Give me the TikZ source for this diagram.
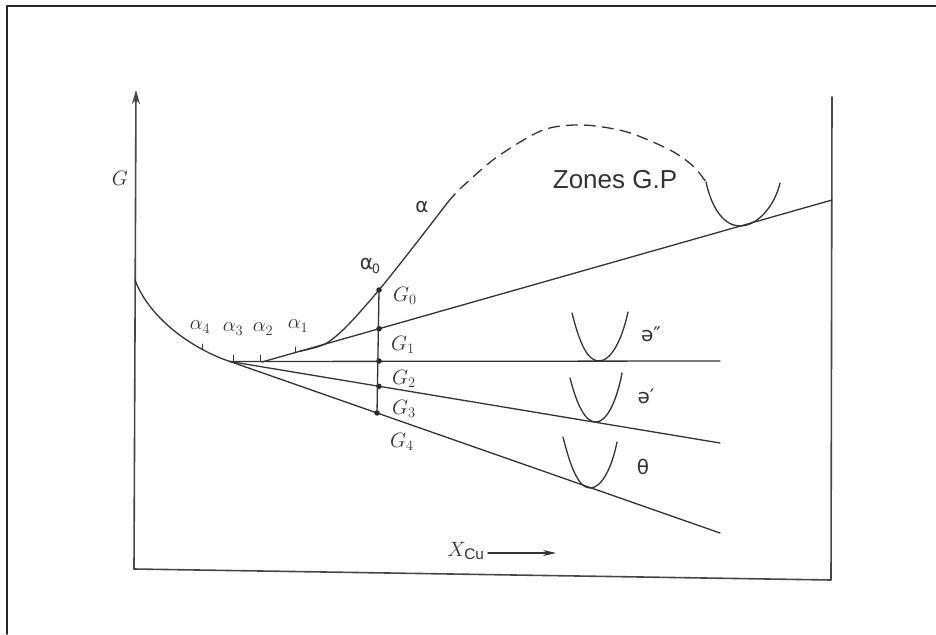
\documentclass[tikz,border=0pt]{standalone}
\usepackage{fontspec}
\setmainfont{Liberation Sans}
\newfontfamily\dejavu{DejaVu Sans}
\usetikzlibrary{arrows.meta,calc}
\begin{document}
\begin{tikzpicture}[x=1pt,y=-1pt,line cap=round,line join=round,
  ln/.style={line width=1.3pt,draw=black!80},
  ax/.style={line width=1.6pt,draw=black!72},
  dotmark/.style={circle,fill=black!85,inner sep=0pt,minimum size=5.5pt},
  lbl/.style={inner sep=0pt,text=black!80},
  glbl/.style={lbl,font=\fontsize{22}{24}\selectfont},
  albl/.style={lbl,font=\fontsize{20}{22}\selectfont},
  slbl/.style={lbl,font=\dejavu\fontsize{20}{24}\selectfont},
  tick/.style={line width=0.9pt,draw=black!80}]
\useasboundingbox (0,0) rectangle (936,634);
% outer frame (left and top)
\draw[line width=1.6pt,black!85] (7,634) -- (7,6) -- (936,6);
% axes
\coordinate (O) at (134,569);
\coordinate (Ytop) at (136,90);
\coordinate (BR) at (831,580);
\coordinate (TR) at (832,97);
\draw[ax,-{Stealth[length=14pt,width=8pt]}] (O) -- (Ytop);
\draw[ax] (O) -- (BR) -- (TR);
% fan of tangent lines
\coordinate (F) at (230,361.5);
\coordinate (A0) at (262,362);
\coordinate (A1) at (832,200);
\coordinate (B1) at (720,361);
\coordinate (C1) at (720,443);
\coordinate (D1) at (720,533);
\draw[ln] (A0) -- (A1);
\draw[ln] (F) -- (B1);
\draw[ln] (F) -- (C1);
\draw[ln] (F) -- (D1);
% left falling curve
\coordinate (S) at (135,280);
\draw[ln] (S) .. controls (150,320) and (195,350) .. (F);
% alpha curve, solid part
\draw[ln] plot[smooth] coordinates {(300,351.2) (325,344) (347,326) (379,290) (414,246) (448,202)};
% dashed part
\draw[ln,dash pattern=on 11pt off 7pt] plot[smooth] coordinates {(448,202) (462,187) (497,157) (543,130) (583,125) (627,132) (670,150) (693,166) (706,182)};
% Zones G.P well
\draw[ln] (706,182) .. controls (712,210) and (725,226) .. (740,226) .. controls (758,226) and (775,205) .. (780,183);
% wells
\draw[ln] (572,313) .. controls (580,345) and (588,361) .. (599,361) .. controls (611,361) and (622,340) .. (628,312);
\draw[ln] (570,378) .. controls (577,405) and (585,422) .. (596,422) .. controls (607,422) and (617,400) .. (622,373);
\draw[ln] (563,437) .. controls (570,465) and (578,488) .. (590,488) .. controls (602,488) and (612,467) .. (617,442);
% ticks on the curve
\draw[tick] (202,349) -- (202,344);
\draw[tick] (233,361) -- (233,355);
\draw[tick] (260,361) -- (260,355);
\draw[tick] (295,353) -- (295,347);
% dots and vertical line
\node[dotmark] (d0) at (379,290) {};
\node[dotmark] (d1) at ($(A0)!0.2053!(A1)$) {};
\node[dotmark] (d2) at (379,361) {};
\node[dotmark] (d3) at ($(F)!0.304!(C1)$) {};
\node[dotmark] (d4) at ($(F)!0.3!(D1)$) {};
\draw[ln] (d0.center) -- (d4.center);
% labels
\node[glbl] (lG) at (120,178) {$G$};
\node[glbl] (lG0) at (405,296) {$G_0$};
\node[glbl] (lG1) at (403,345) {$G_1$};
\node[glbl] (lG2) at (404,379) {$G_2$};
\node[glbl] (lG3) at (404,409) {$G_3$};
\node[glbl] (lG4) at (402,442) {$G_4$};
\node[albl] (la4) at (200,327) {$\alpha_4$};
\node[albl] (la3) at (233,329) {$\alpha_3$};
\node[albl] (la2) at (263,329) {$\alpha_2$};
\node[albl] (la1) at (298,326) {$\alpha_1$};
\node[slbl] (la) at (422,207) {α};
\node[slbl] (la0) at (370,266) {α\kern-1pt\raisebox{-4pt}{\fontsize{13}{14}\selectfont 0}};
\node[lbl,font=\fontsize{26}{30}\selectfont] (zones) at (615,180) {Zones G.P};
\node[slbl] (e2) at (651,334) {ə″};
\node[slbl] (e1) at (646,396) {ə′};
\node[slbl] (th) at (643,467) {θ};
\node[glbl] (xcu) at (466,551) {$X_{\mathrm{Cu}}$};
\coordinate (xa0) at (488,553);
\coordinate (xa1) at (556,553);
\draw[line width=1.4pt,black!80,-{Stealth[length=13pt,width=6pt]}] (xa0) -- (xa1);
\end{tikzpicture}
\end{document}
